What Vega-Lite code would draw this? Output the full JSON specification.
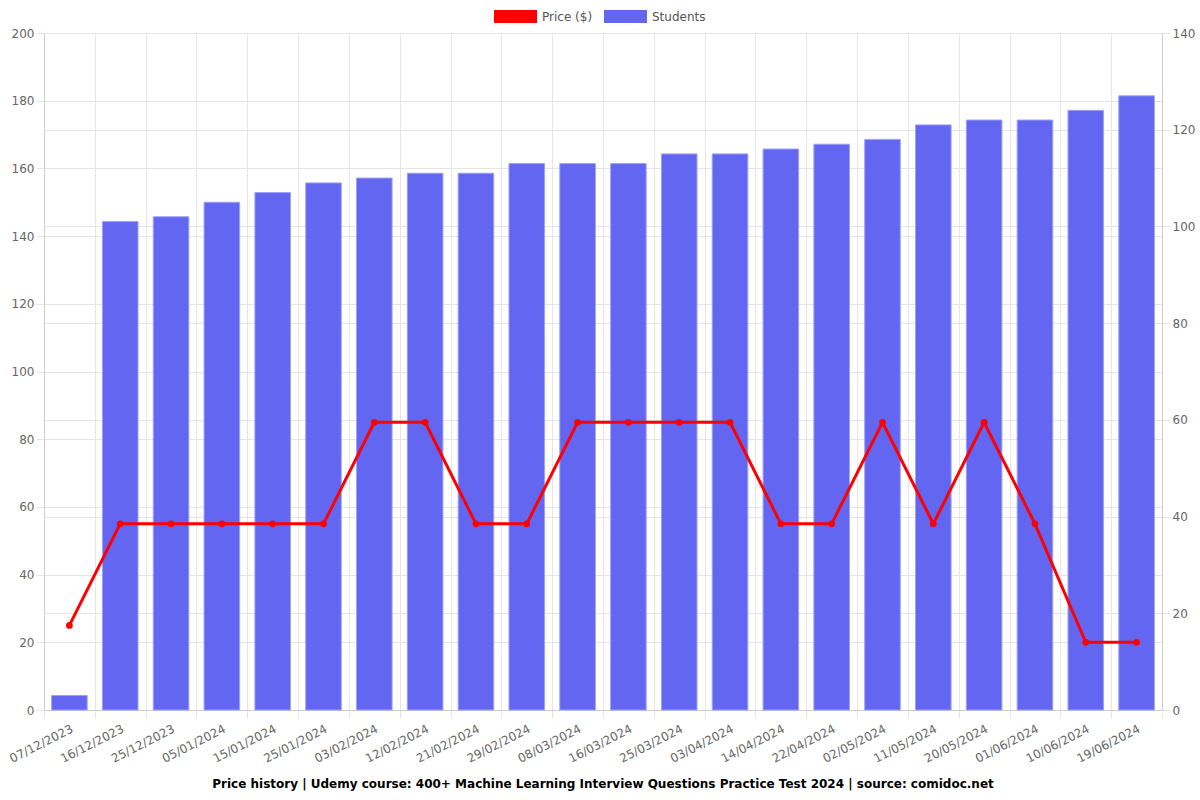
{
  "$schema": "https://vega.github.io/schema/vega-lite/v6.json",
  "width": 1118,
  "height": 677,
  "autosize": {"type": "none"},
  "padding": {"left": 44, "top": 33, "right": 38, "bottom": 90},
  "background": "white",
  "config": {
    "font": "DejaVu Sans",
    "view": {"stroke": null},
    "axis": {
      "labelFont": "DejaVu Sans",
      "labelFontSize": 12,
      "labelColor": "#666666",
      "gridColor": "#e5e5e5",
      "tickColor": "#e5e5e5",
      "domainColor": "#cccccc",
      "tickSize": 8,
      "title": null
    }
  },
  "title": {
    "text": "Price history | Udemy course: 400+ Machine Learning Interview Questions Practice Test 2024 | source: comidoc.net",
    "orient": "bottom",
    "anchor": "middle",
    "font": "DejaVu Sans",
    "fontSize": 12,
    "fontWeight": "bold",
    "color": "#000000",
    "offset": 15
  },
  "data": {
    "values": [
      {"date": "07/12/2023", "price": 25, "students": 3},
      {"date": "16/12/2023", "price": 55, "students": 101},
      {"date": "25/12/2023", "price": 55, "students": 102},
      {"date": "05/01/2024", "price": 55, "students": 105},
      {"date": "15/01/2024", "price": 55, "students": 107},
      {"date": "25/01/2024", "price": 55, "students": 109},
      {"date": "03/02/2024", "price": 85, "students": 110},
      {"date": "12/02/2024", "price": 85, "students": 111},
      {"date": "21/02/2024", "price": 55, "students": 111},
      {"date": "29/02/2024", "price": 55, "students": 113},
      {"date": "08/03/2024", "price": 85, "students": 113},
      {"date": "16/03/2024", "price": 85, "students": 113},
      {"date": "25/03/2024", "price": 85, "students": 115},
      {"date": "03/04/2024", "price": 85, "students": 115},
      {"date": "14/04/2024", "price": 55, "students": 116},
      {"date": "22/04/2024", "price": 55, "students": 117},
      {"date": "02/05/2024", "price": 85, "students": 118},
      {"date": "11/05/2024", "price": 55, "students": 121},
      {"date": "20/05/2024", "price": 85, "students": 122},
      {"date": "01/06/2024", "price": 55, "students": 122},
      {"date": "10/06/2024", "price": 20, "students": 124},
      {"date": "19/06/2024", "price": 20, "students": 127}
    ]
  },
  "encoding": {
    "x": {
      "field": "date",
      "type": "nominal",
      "sort": null,
      "scale": {"paddingInner": 0, "paddingOuter": 0},
      "axis": {
        "labelAngle": -27,
        "tickBand": "extent",
        "grid": true,
        "domain": true,
        "labelPadding": 5
      }
    }
  },
  "layer": [
    {
      "mark": {"type": "bar", "stroke": "#9ea0f7", "strokeWidth": 1, "width": {"band": 0.7}},
      "encoding": {
        "y": {
          "field": "students",
          "type": "quantitative",
          "scale": {"domain": [0, 140], "nice": false},
          "axis": {"orient": "right", "values": [0, 20, 40, 60, 80, 100, 120, 140], "grid": true}
        },
        "color": {
          "datum": "Students",
          "type": "nominal",
          "scale": {"domain": ["Price ($)", "Students"], "range": ["#ff0000", "#6366f1"]},
          "legend": {
            "orient": "none",
            "legendX": 450,
            "legendY": -38,
            "direction": "horizontal",
            "title": null,
            "symbolType": "M-1,-0.3H1V0.3H-1Z",
            "symbolSize": 1849,
            "symbolOpacity": 1,
            "symbolStrokeWidth": 0,
            "labelFontSize": 12,
            "labelColor": "#555555",
            "labelFont": "DejaVu Sans",
            "labelOffset": 5,
            "columnPadding": 11,
            "symbolOffset": 0,
            "encode": {
              "symbols": {
                "update": {
                  "fill": {"scale": "color", "field": "value"},
                  "fillOpacity": {"value": 1},
                  "strokeWidth": {"value": 0}
                }
              }
            }
          }
        }
      }
    },
    {
      "mark": {"type": "line", "strokeWidth": 3, "point": {"size": 45, "filled": true}},
      "encoding": {
        "y": {
          "field": "price",
          "type": "quantitative",
          "scale": {"domain": [0, 200], "nice": false},
          "axis": {"orient": "left", "values": [0, 20, 40, 60, 80, 100, 120, 140, 160, 180, 200], "grid": true}
        },
        "color": {"datum": "Price ($)", "type": "nominal"}
      }
    }
  ],
  "resolve": {"scale": {"y": "independent"}}
}
